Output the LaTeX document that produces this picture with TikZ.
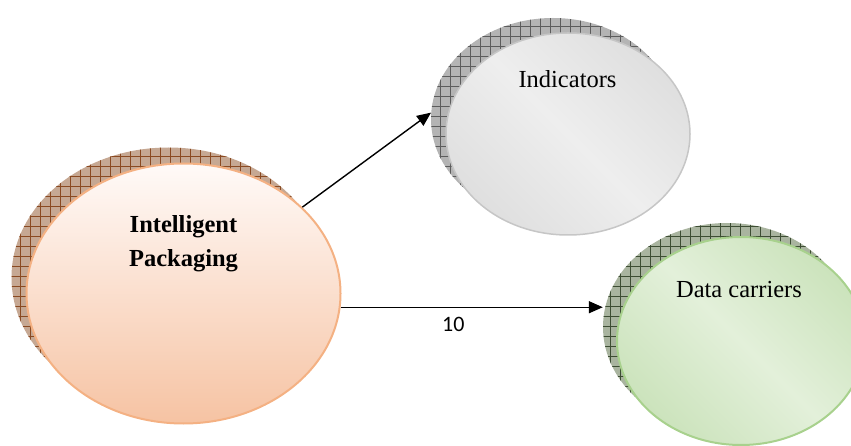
\documentclass[tikz,border=0pt]{standalone}
\usepackage{fontspec}
\setmainfont{Liberation Serif}
\newfontfamily\numfont{Carlito}
\usetikzlibrary{shapes.geometric,patterns,arrows.meta}

\definecolor{peachtop}{HTML}{FFFAF8}
\definecolor{peachbot}{HTML}{F6C3A3}
\definecolor{peachline}{HTML}{F4B183}
\definecolor{brownbase}{HTML}{C6A893}
\definecolor{browngrid}{HTML}{8A4A22}
\definecolor{greyedge}{HTML}{D0D0D0}
\definecolor{greymid}{HTML}{EEEEEE}
\definecolor{greyline}{HTML}{C6C6C6}
\definecolor{greybase}{HTML}{B4B4B4}
\definecolor{greygrid}{HTML}{5C5C5C}
\definecolor{greenedge}{HTML}{B4D69E}
\definecolor{greenmid}{HTML}{E3F0DA}
\definecolor{greenline}{HTML}{A8D18D}
\definecolor{greenbase}{HTML}{A9B49F}
\definecolor{greengrid}{HTML}{3D4D33}

% wide cross-hatch for the shadows
\pgfdeclarepatternformonly{widegrid}{\pgfqpoint{-1pt}{-1pt}}{\pgfqpoint{10pt}{10pt}}{\pgfqpoint{10pt}{10pt}}{
  \pgfsetlinewidth{0.7pt}
  \pgfpathmoveto{\pgfqpoint{0pt}{0pt}}\pgfpathlineto{\pgfqpoint{0pt}{10.1pt}}
  \pgfpathmoveto{\pgfqpoint{0pt}{0pt}}\pgfpathlineto{\pgfqpoint{10.1pt}{0pt}}
  \pgfusepath{stroke}}
\pgfdeclarehorizontalshading{greyband}{100bp}{color(0bp)=(greyedge); color(50bp)=(greymid); color(100bp)=(greyedge)}
\pgfdeclarehorizontalshading{greenband}{100bp}{color(0bp)=(greenedge); color(50bp)=(greenmid); color(100bp)=(greenedge)}

\tikzset{
  blob/.style={ellipse, inner sep=0pt, minimum width=#1},
  shadowblob/.style={ellipse, inner sep=0pt, postaction={pattern=widegrid, pattern color=#1}},
  bigtext/.style={inner sep=0pt, font=\fontsize{24.5}{34}\selectfont, align=center},
  conn/.style={line width=1.4pt, -{Triangle[length=14pt,width=12pt]}}
}

\begin{document}
\begin{tikzpicture}[x=1pt, y=-1pt]
\useasboundingbox (0,0) rectangle (851,446);
\clip (0,0) rectangle (851,446);

% shadows
\node[shadowblob=browngrid, fill=brownbase, minimum width=314pt, minimum height=260pt] (ips) at (168.5,277.5) {};
\node[shadowblob=greygrid, fill=greybase, minimum width=244pt, minimum height=202pt] (inds) at (553,119) {};
\node[shadowblob=greengrid, fill=greenbase, minimum width=248pt, minimum height=208pt] (dcs) at (727,327) {};

% front ellipses
\node[blob=314pt, minimum height=260pt, draw=peachline, line width=2pt,
      top color=peachtop, bottom color=peachbot] (ip) at (183.5,293.5) {};
\node[blob=244pt, minimum height=202pt, draw=greyline, line width=1.5pt,
      shading=greyband, shading angle=45] (ind) at (568,134) {};
\node[blob=248pt, minimum height=208pt, draw=greenline, line width=2pt,
      shading=greenband, shading angle=45] (dc) at (741,341) {};

% texts
\node[bigtext, font=\fontsize{24.5}{34}\selectfont\bfseries] (iptxt) at (183.5,243.5) {Intelligent\\Packaging};
\node[bigtext, anchor=base] (indtxt) at (567.5,88) {Indicators};
\node[bigtext, anchor=base] (dctxt) at (739,298) {Data carriers};

% connectors
\draw[conn] (ip.36.6) -- (inds.177);
\draw[conn] (ip.-5.6) -- (ip.-5.6 -| dcs.west)
  node[pos=0.43, below=9pt, inner sep=0pt, font=\numfont\fontsize{22}{26}\selectfont] (lbl) {10};
\end{tikzpicture}
\end{document}
